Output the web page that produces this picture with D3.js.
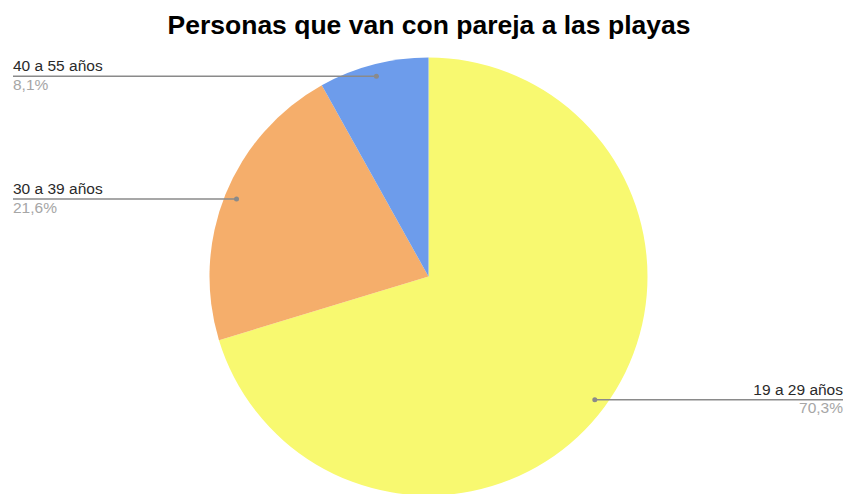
<!DOCTYPE html>
<html>
<head>
<meta charset="utf-8">
<script src="https://cdn.jsdelivr.net/npm/d3@7"></script>
<style>
  html, body { margin: 0; padding: 0; background: #fff; }
  svg { display: block; font-family: "Liberation Sans", Arial, sans-serif; }
</style>
</head>
<body>
<svg id="chart" width="847" height="494"></svg>
<script>
// Age groups and their share of people who go to the beach with a partner (%)
const categories = ["19 a 29 años", "30 a 39 años", "40 a 55 años"];
const values = [70.3, 21.6, 8.1];
const percentLabels = ["70,3%", "21,6%", "8,1%"];
const colors = ["#f8f970", "#f5ae6b", "#6d9ceb"];
const title = "Personas que van con pareja a las playas";

const width = 847, height = 494;
const cx = 428.5, cy = 276.5, radius = 219;

const svg = d3.select("#chart");

svg.append("text")
  .attr("x", 429)
  .attr("y", 34)
  .attr("text-anchor", "middle")
  .attr("font-size", 26.5)
  .attr("font-weight", "bold")
  .attr("fill", "#000")
  .text(title);

const data = categories.map((c, i) => ({ name: c, value: values[i], pct: percentLabels[i], color: colors[i] }));

const pie = d3.pie().sort(null).value(d => d.value);
const arcs = pie(data);
const arc = d3.arc().innerRadius(0).outerRadius(radius);
const dotArc = d3.arc().innerRadius(207).outerRadius(207);

const g = svg.append("g").attr("transform", `translate(${cx},${cy})`);

g.selectAll("path.slice")
  .data(arcs)
  .join("path")
  .attr("class", "slice")
  .attr("d", arc)
  .attr("fill", d => d.data.color);

// Leader lines: each runs horizontally from a dot inside its slice to the page edge
const labelGroup = svg.append("g");
arcs.forEach(a => {
  const [dx, dy] = dotArc.centroid(a);
  const px = cx + dx, py = cy + dy;
  const right = px > cx;
  const x2 = right ? 843 : 13;

  labelGroup.append("line")
    .attr("x1", px).attr("y1", py)
    .attr("x2", x2).attr("y2", py)
    .attr("stroke", "#8a8a8a")
    .attr("stroke-width", 1.5);

  labelGroup.append("circle")
    .attr("cx", px).attr("cy", py).attr("r", 2.5)
    .attr("fill", "#8a8a8a");

  const anchor = right ? "end" : "start";
  labelGroup.append("text")
    .attr("x", x2).attr("y", py - 5)
    .attr("text-anchor", anchor)
    .attr("font-size", 15.5)
    .attr("fill", "#2a2a2a")
    .text(a.data.name);

  labelGroup.append("text")
    .attr("x", x2).attr("y", py + 13.5)
    .attr("text-anchor", anchor)
    .attr("font-size", 15.5)
    .attr("fill", "#a6a6a6")
    .text(a.data.pct);
});
</script>
</body>
</html>
